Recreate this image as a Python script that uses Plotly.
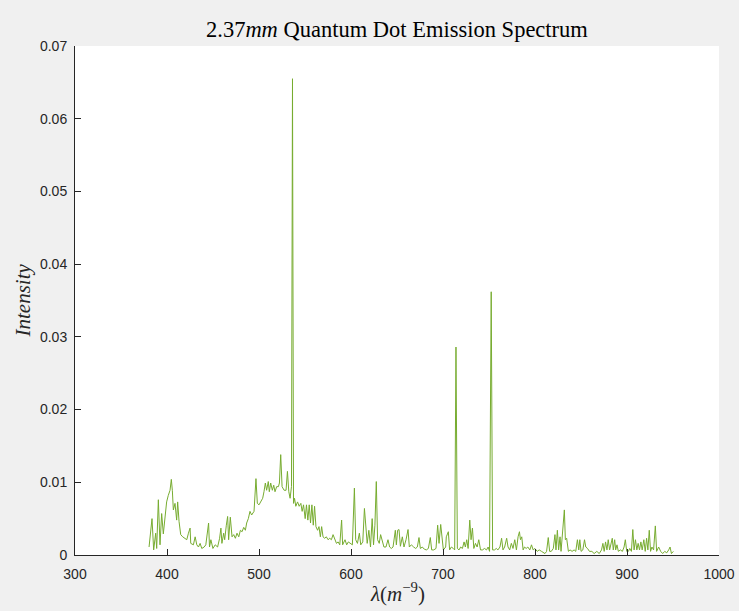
import plotly.graph_objects as go

# Wavelength (nm) and intensity values
wavelength = [
    380.5, 383.7, 385.5, 387.7, 388.8, 390.6, 392.4, 394.2, 396.0, 397.8,
    399.6, 401.4, 403.3, 404.7, 405.8, 406.9, 408.7, 410.5, 411.6, 413.1,
    414.9, 417.1, 419.6, 421.5, 423.3, 425.1, 425.8, 428.7, 430.6, 432.4,
    434.2, 436.0, 437.8, 440.4, 442.2, 445.2, 446.2, 447.7, 449.9, 452.4,
    455.0, 457.2, 458.6, 459.7, 461.6, 462.7, 464.5, 465.9, 467.0, 468.8,
    470.7, 472.5, 474.3, 476.1, 478.0, 479.8, 481.6, 483.4, 485.2, 486.6,
    488.4, 490.2, 492.0, 494.6, 496.7, 498.2, 500.0, 501.8, 504.0, 505.4,
    506.9, 508.3, 510.1, 511.2, 512.7, 514.5, 516.0, 517.4, 519.2, 521.1,
    522.2, 523.6, 525.1, 527.3, 529.4, 530.9, 532.4, 533.8, 535.3, 536.4,
    537.5, 538.6, 540.0, 541.9, 543.7, 545.5, 546.9, 548.4, 550.2, 551.6,
    553.1, 554.6, 556.0, 557.5, 559.0, 560.4, 561.9, 563.7, 565.2, 566.7,
    568.1, 569.6, 571.4, 573.2, 575.1, 576.9, 578.7, 580.5, 582.3, 584.2,
    586.0, 587.8, 589.8, 590.9, 593.5, 595.3, 597.1, 598.9, 601.5, 603.7,
    605.1, 607.0, 609.1, 610.6, 612.8, 614.6, 616.1, 617.6, 619.4, 621.2,
    623.0, 624.5, 626.0, 627.5, 628.9, 630.7, 632.2, 634.0, 635.8, 638.0,
    640.2, 642.0, 643.8, 645.7, 648.2, 649.3, 650.7, 652.2, 653.7, 655.8,
    657.6, 659.8, 662.0, 663.4, 665.6, 668.1, 670.3, 672.1, 673.9, 675.4,
    677.5, 679.7, 681.9, 684.1, 686.2, 687.7, 689.9, 692.4, 694.2, 695.7,
    697.5, 700.4, 702.9, 703.6, 705.8, 707.2, 709.1, 711.2, 712.7, 714.1,
    715.6, 717.4, 719.2, 721.1, 722.9, 724.3, 725.8, 727.3, 729.1, 730.5,
    732.0, 733.5, 735.3, 737.1, 738.9, 740.8, 742.9, 745.1, 747.3, 749.1,
    750.6, 752.4, 753.9, 756.0, 757.9, 759.7, 761.9, 763.7, 765.2, 767.0,
    769.2, 770.7, 772.5, 774.3, 776.1, 778.0, 779.8, 781.6, 783.1, 784.2,
    785.6, 787.1, 788.6, 790.4, 792.2, 794.4, 796.2, 798.0, 799.8, 802.4,
    804.6, 807.1, 810.8, 812.6, 814.4, 815.9, 817.7, 819.9, 821.7, 822.8,
    824.3, 825.7, 827.2, 828.3, 829.7, 830.8, 831.9, 833.0, 834.4, 836.3,
    838.1, 840.3, 842.5, 844.3, 846.1, 847.6, 848.7, 850.1, 852.0, 853.8,
    855.2, 857.1, 859.2, 861.8, 864.3, 867.2, 869.8, 872.3, 873.8, 875.2,
    876.7, 878.2, 879.6, 881.1, 882.6, 884.0, 885.1, 886.6, 887.7, 889.1,
    890.6, 892.8, 895.0, 896.8, 898.2, 899.7, 901.5, 903.0, 904.8, 906.3,
    907.7, 909.2, 910.7, 912.1, 913.6, 915.1, 916.5, 918.3, 919.8, 921.3,
    922.7, 924.2, 925.6, 927.1, 928.9, 930.8, 932.2, 934.4, 936.6, 938.8,
    941.0, 943.2, 945.3, 946.8, 948.3, 950.4,
]

intensity = [
    0.0011, 0.0050, 0.0007, 0.0030, 0.0009, 0.0076, 0.0014, 0.0057, 0.0029, 0.0052,
    0.0073, 0.0082, 0.0089, 0.0104, 0.0089, 0.0062, 0.0071, 0.0048, 0.0073, 0.0046,
    0.0028, 0.0025, 0.0023, 0.0021, 0.0030, 0.0037, 0.0016, 0.0014, 0.0025, 0.0014,
    0.0011, 0.0016, 0.0009, 0.0011, 0.0014, 0.0044, 0.0011, 0.0021, 0.0009, 0.0014,
    0.0011, 0.0023, 0.0037, 0.0016, 0.0030, 0.0021, 0.0041, 0.0053, 0.0021, 0.0052,
    0.0025, 0.0028, 0.0023, 0.0030, 0.0025, 0.0034, 0.0032, 0.0038, 0.0034, 0.0044,
    0.0050, 0.0060, 0.0055, 0.0060, 0.0105, 0.0071, 0.0069, 0.0073, 0.0078, 0.0087,
    0.0099, 0.0089, 0.0101, 0.0087, 0.0099, 0.0089, 0.0096, 0.0087, 0.0094, 0.0094,
    0.0099, 0.0138, 0.0094, 0.0089, 0.0089, 0.0115, 0.0087, 0.0078, 0.0094, 0.0655,
    0.0071, 0.0078, 0.0067, 0.0073, 0.0067, 0.0071, 0.0060, 0.0069, 0.0050, 0.0069,
    0.0048, 0.0069, 0.0044, 0.0069, 0.0041, 0.0067, 0.0039, 0.0034, 0.0039, 0.0025,
    0.0039, 0.0025, 0.0023, 0.0025, 0.0021, 0.0023, 0.0021, 0.0028, 0.0021, 0.0016,
    0.0018, 0.0014, 0.0048, 0.0014, 0.0021, 0.0014, 0.0018, 0.0016, 0.0014, 0.0092,
    0.0021, 0.0016, 0.0030, 0.0014, 0.0018, 0.0064, 0.0034, 0.0016, 0.0034, 0.0011,
    0.0050, 0.0014, 0.0041, 0.0101, 0.0021, 0.0016, 0.0028, 0.0021, 0.0011, 0.0011,
    0.0021, 0.0011, 0.0009, 0.0011, 0.0034, 0.0014, 0.0034, 0.0035, 0.0012, 0.0025,
    0.0011, 0.0021, 0.0035, 0.0011, 0.0014, 0.0011, 0.0009, 0.0011, 0.0024, 0.0009,
    0.0011, 0.0008, 0.0007, 0.0009, 0.0024, 0.0007, 0.0007, 0.0009, 0.0041, 0.0016,
    0.0042, 0.0007, 0.0011, 0.0025, 0.0032, 0.0007, 0.0011, 0.0009, 0.0007, 0.0286,
    0.0009, 0.0007, 0.0011, 0.0009, 0.0018, 0.0011, 0.0021, 0.0009, 0.0048, 0.0021,
    0.0037, 0.0009, 0.0016, 0.0011, 0.0021, 0.0007, 0.0007, 0.0009, 0.0007, 0.0011,
    0.0005, 0.0362, 0.0007, 0.0007, 0.0009, 0.0007, 0.0011, 0.0023, 0.0007, 0.0011,
    0.0023, 0.0011, 0.0007, 0.0016, 0.0009, 0.0021, 0.0007, 0.0025, 0.0032, 0.0021,
    0.0025, 0.0007, 0.0011, 0.0009, 0.0011, 0.0007, 0.0014, 0.0007, 0.0009, 0.0005,
    0.0007, 0.0005, 0.0002, 0.0005, 0.0024, 0.0005, 0.0005, 0.0009, 0.0028, 0.0007,
    0.0034, 0.0007, 0.0025, 0.0005, 0.0032, 0.0039, 0.0062, 0.0021, 0.0023, 0.0005,
    0.0007, 0.0005, 0.0007, 0.0005, 0.0021, 0.0007, 0.0021, 0.0005, 0.0007, 0.0021,
    0.0011, 0.0009, 0.0005, 0.0005, 0.0002, 0.0005, 0.0002, 0.0007, 0.0016, 0.0005,
    0.0018, 0.0007, 0.0021, 0.0007, 0.0016, 0.0023, 0.0007, 0.0021, 0.0007, 0.0014,
    0.0005, 0.0007, 0.0005, 0.0011, 0.0021, 0.0005, 0.0005, 0.0009, 0.0005, 0.0035,
    0.0007, 0.0021, 0.0007, 0.0016, 0.0007, 0.0018, 0.0007, 0.0021, 0.0005, 0.0023,
    0.0007, 0.0034, 0.0005, 0.0011, 0.0007, 0.0040, 0.0005, 0.0011, 0.0005, 0.0002,
    0.0005, 0.0003, 0.0007, 0.0011, 0.0002, 0.0005,
]

x_ticks = [300, 400, 500, 600, 700, 800, 900, 1000]
y_ticks = [0, 0.01, 0.02, 0.03, 0.04, 0.05, 0.06, 0.07]
y_tick_labels = ["0", "0.01", "0.02", "0.03", "0.04", "0.05", "0.06", "0.07"]

axis_color = "#262626"
serif = "Liberation Serif, Times New Roman, serif"
sans = "Liberation Sans, Arial, Helvetica, sans-serif"

fig = go.Figure()
fig.add_trace(go.Scatter(
    x=wavelength, y=intensity, mode="lines",
    line=dict(color="#77AC30", width=1),
    showlegend=False, hoverinfo="x+y",
))

plot_left, plot_right = 75, 719
plot_top, plot_bottom = 46, 555
plot_h = plot_bottom - plot_top
plot_w = plot_right - plot_left

fig.update_layout(
    width=739, height=611,
    margin=dict(l=plot_left, r=739 - plot_right, t=plot_top, b=611 - plot_bottom,
                autoexpand=False),
    paper_bgcolor="#f0f0f0",
    plot_bgcolor="#ffffff",
    font=dict(family=sans, size=13, color=axis_color),
    xaxis=dict(
        range=[300, 1000], tickvals=x_ticks, ticks="inside", ticklen=6,
        tickcolor=axis_color, showline=True, linecolor=axis_color, linewidth=1,
        showgrid=False, zeroline=False, mirror=False, ticklabelstandoff=6,
        ticklabeloverflow="allow", automargin=False,
        tickfont=dict(family=sans, size=14, color=axis_color),
    ),
    yaxis=dict(
        range=[0, 0.07], tickvals=y_ticks, ticktext=y_tick_labels,
        ticks="inside", ticklen=6, ticklabelstandoff=4,
        ticklabeloverflow="allow", automargin=False,
        tickcolor=axis_color, showline=True, linecolor=axis_color, linewidth=1,
        showgrid=False, zeroline=False, mirror=False,
        tickfont=dict(family=sans, size=14, color=axis_color),
    ),
    annotations=[
        dict(text="2.37<i>mm</i> Quantum Dot Emission Spectrum",
             xref="paper", yref="paper", x=0.5, y=(plot_bottom - 30) / plot_h,
             xanchor="center", yanchor="middle", showarrow=False,
             font=dict(family=serif, size=22.5, color="#000000")),
        dict(text="<i>λ</i>(<i>m</i><sup>−9</sup>)",
             xref="paper", yref="paper", x=0.5, y=(plot_bottom - 592) / plot_h,
             xanchor="center", yanchor="middle", showarrow=False,
             font=dict(family=serif, size=21, color=axis_color)),
        dict(text="<i>Intensity</i>",
             xref="paper", yref="paper", x=(22 - plot_left) / plot_w, y=0.5,
             xanchor="center", yanchor="middle", textangle=-90, showarrow=False,
             font=dict(family=serif, size=21, color=axis_color)),
    ],
)

fig.write_html("out.html")
